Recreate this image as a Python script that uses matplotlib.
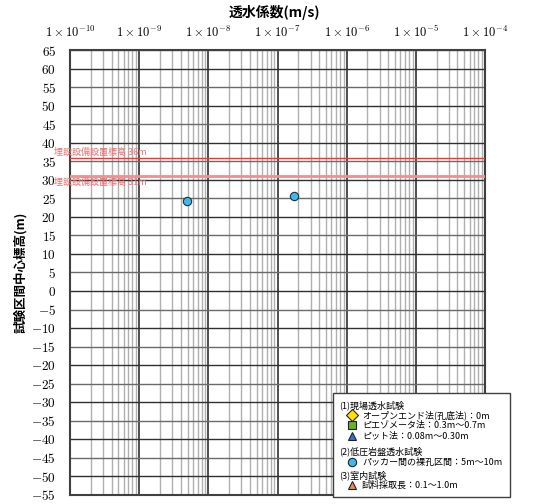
import numpy as np
import matplotlib.pyplot as plt
from matplotlib.patches import Rectangle

plt.rcParams['font.family'] = ['Noto Sans CJK JP', 'DejaVu Sans']
plt.rcParams['mathtext.fontset'] = 'cm'

# data
k_vals = [4.9e-9, 1.76e-7]
elev_vals = [24.4, 25.7]
ref_levels = [36, 31]
ref_labels = ['埋設設備設置標高 36m', '埋設設備設置標高 31m']
decades = [-10, -9, -8, -7, -6, -5, -4]
yticks = list(range(-55, 70, 5))

legend_rows = [
    ('head', '(1)現場透水試験', None, None),
    ('item', 'オープンエンド法(孔底法)：0m', 'D', '#ffe000'),
    ('item', 'ピエゾメータ法：0.3m～0.7m', 's', '#66b032'),
    ('item', 'ピット法：0.08m～0.30m', '^', '#3a6fc4'),
    ('head', '(2)低圧岩盤透水試験', None, None),
    ('item', 'パッカー間の裸孔区間：5m～10m', 'o', '#40b8e8'),
    ('head', '(3)室内試験', None, None),
    ('item', '試料採取長：0.1～1.0m', '^', '#f08a50'),
]

W, H = 548, 504
fig = plt.figure(figsize=(W / 100, H / 100), dpi=100)
ax = fig.add_axes([70 / W, 1 - 495 / H, 415 / W, 445 / H])
ax.set_xscale('log')
ax.set_xlim(1e-10, 1e-4)
ax.set_ylim(-55, 65)

# grid
for d in decades[:-1]:
    for m in range(2, 10):
        ax.axvline(m * 10.0 ** d, color='#b0b0b0', lw=1.0, zorder=1)
for d in decades:
    ax.axvline(10.0 ** d, color='#404040', lw=1.3, zorder=2)
for y in yticks:
    c = '#303030' if y % 10 == 0 else '#6a6a6a'
    ax.axhline(y, color=c, lw=1.0, zorder=2)

# reference levels
lab_x = (54 - 70) / 415
for lev, lab, col, lw in zip(ref_levels, ref_labels, ['#ff3030', '#f09090'], [1.0, 2.0]):
    ax.axhline(lev, color=col, lw=lw, zorder=3)
    off = 1.5 if lev == 36 else -1.8
    ax.text(lab_x, lev + off, lab, transform=ax.get_yaxis_transform(), fontsize=6.5,
            color='#f07070', va='center', ha='left', zorder=4, clip_on=False)

ax.plot(k_vals, elev_vals, 'o', ms=6, mfc='#40b8e8', mec='#203040', mew=0.8, zorder=5)

ax.xaxis.tick_top()
ax.set_xticks([10.0 ** d for d in decades])
ax.set_xticklabels([r'$1\times10^{%d}$' % d for d in decades], fontsize=9)
ax.xaxis.set_minor_locator(plt.NullLocator())
ax.tick_params(axis='x', length=0, pad=7)
ax.set_yticks(yticks)
ax.set_yticklabels([r'$%d$' % y for y in yticks], fontsize=9.5)
ax.tick_params(axis='y', length=0, pad=10)
for s in ax.spines.values():
    s.set_color('#404040')
    s.set_linewidth(1.5)

fig.text(0.5, 1 - 12 / H, '透水係数(m/s)', ha='center', va='center', fontsize=10, fontweight='bold')
fig.text(20 / W, 1 - 272 / H, '試験区間中心標高(m)', ha='center', va='center',
         rotation=90, fontsize=9, fontweight='bold')

# legend box
fig.patches.append(Rectangle((333 / W, 1 - 497 / H), 177 / W, 104 / H, transform=fig.transFigure,
                             facecolor='white', edgecolor='#404040', lw=1.0, zorder=10))
ys = [405, 415, 425, 436, 451, 462, 475, 485]
for (kind, txt, mk, col), y in zip(legend_rows, ys):
    if kind == 'head':
        fig.text(339 / W, 1 - y / H, txt, fontsize=6.5, va='center', zorder=11)
    else:
        fig.lines.append(plt.Line2D([352 / W], [1 - y / H], marker=mk, ms=6, mfc=col, mec='#222222',
                                    mew=0.8, transform=fig.transFigure, zorder=11))
        fig.text(362 / W, 1 - y / H, txt, fontsize=6.5, va='center', zorder=11)

fig.savefig('out.png', dpi=100)
